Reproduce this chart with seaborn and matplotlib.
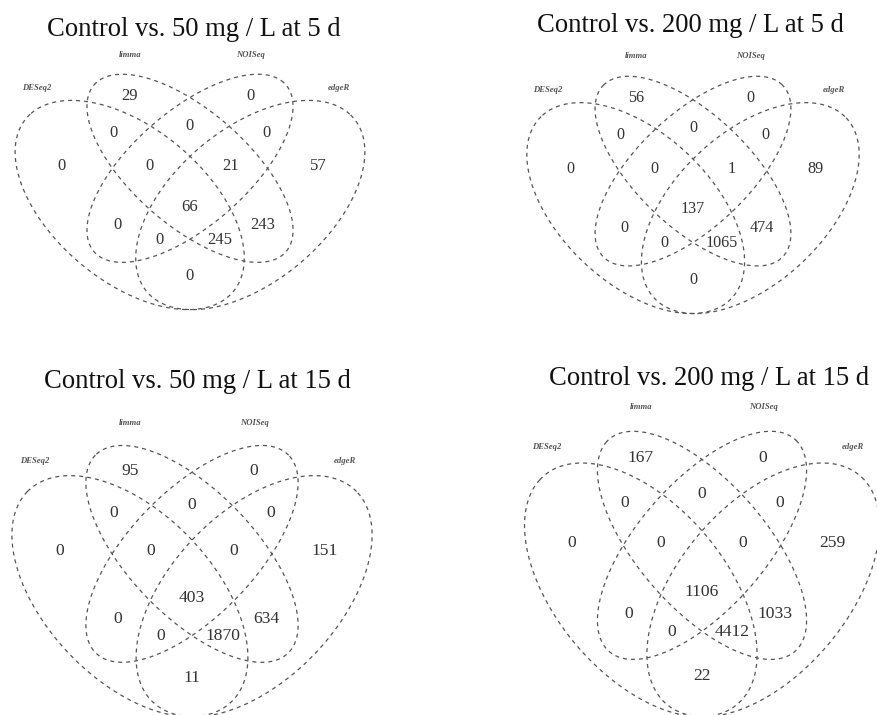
import numpy as np
import pandas as pd
import matplotlib
matplotlib.use("Agg")
import matplotlib.pyplot as plt
import seaborn as sns

# ---------------- data ----------------
titles = [
    "Control vs. 50 mg / L at 5 d",
    "Control vs. 200 mg / L at 5 d",
    "Control vs. 50 mg / L at 15 d",
    "Control vs. 200 mg / L at 15 d",
]
set_names = ["DESeq2", "limma", "NOISeq", "edgeR"]

# region counts in order:
# limma only, limma&NOISeq, NOISeq only, DESeq2&limma, DESeq2&limma&NOISeq,
# all four, limma&NOISeq&edgeR, NOISeq&edgeR, DESeq2 only, DESeq2&NOISeq,
# DESeq2&NOISeq&edgeR, DESeq2&edgeR, DESeq2&limma&edgeR, limma&edgeR, edgeR only
counts_50_5d = [29, 0, 0, 0, 0, 66, 21, 0, 0, 0, 0, 0, 245, 243, 57]
counts_200_5d = [56, 0, 0, 0, 0, 137, 1, 0, 0, 0, 0, 0, 1065, 474, 89]
counts_50_15d = [95, 0, 0, 0, 0, 403, 0, 0, 0, 0, 0, 11, 1870, 634, 151]
counts_200_15d = [167, 0, 0, 0, 0, 1106, 0, 0, 0, 0, 0, 22, 4412, 1033, 259]
panel_counts = [counts_50_5d, counts_200_5d, counts_50_15d, counts_200_15d]

# ---------------- layout (quad venn geometry, unit square) ----------------
ellipses = [  # cx, cy, a, b, rotation (deg)
    (0.35, 0.47, 0.35, 0.20, 135),
    (0.50, 0.57, 0.33, 0.15, 135),
    (0.50, 0.57, 0.33, 0.15, 45),
    (0.65, 0.47, 0.35, 0.20, 45),
]
region_pos = [
    (0.350, 0.77), (0.500, 0.69), (0.650, 0.77), (0.310, 0.67), (0.400, 0.58),
    (0.500, 0.47), (0.600, 0.58), (0.690, 0.67), (0.180, 0.58), (0.320, 0.42),
    (0.425, 0.38), (0.500, 0.28), (0.575, 0.38), (0.680, 0.42), (0.820, 0.58),
]
set_label_pos = [(0.12, 0.79), (0.35, 0.88), (0.65, 0.88), (0.87, 0.79)]

# per panel: x0, sx, y0, sy (pixel transform), title position, number font size
panels = [
    dict(x0=-11, sx=402, y0=377.5, sy=367, tx=194, ty=36, nfs=12.0),
    dict(x0=502, sx=382, y0=382, sy=370, tx=690, ty=32, nfs=11.6),
    dict(x0=-15, sx=414, y0=795, sy=423, tx=197, ty=388, nfs=12.6),
    dict(x0=498, sx=408, y0=799, sy=445, tx=709, ty=385, nfs=12.6),
]

sns.set_theme(style="white")
plt.rcParams["font.family"] = ["Liberation Serif", "DejaVu Serif"]

W, H = 878, 715
fig = plt.figure(figsize=(W / 100, H / 100), dpi=100)
ax = fig.add_axes([0, 0, 1, 1])
ax.set_xlim(0, W)
ax.set_ylim(H, 0)
ax.axis("off")

t = np.linspace(0, 2 * np.pi, 600)
for p, counts, title in zip(panels, panel_counts, titles):
    def tx(u):
        return p["x0"] + p["sx"] * u

    def ty(v):
        return p["y0"] - p["sy"] * v

    for (cx, cy, a, b, rot) in ellipses:
        th = np.deg2rad(rot)
        xu = cx + a * np.cos(t) * np.cos(th) - b * np.sin(t) * np.sin(th)
        yu = cy + a * np.cos(t) * np.sin(th) + b * np.sin(t) * np.cos(th)
        df = pd.DataFrame({"x": tx(xu), "y": ty(yu)})
        sns.lineplot(data=df, x="x", y="y", sort=False, estimator=None,
                     color="#555555", linewidth=0.9,
                     linestyle=(0, (3.2, 3.2)), ax=ax)

    em = p["nfs"] / 72 * 100
    for (u, v), c in zip(region_pos, counts):
        ax.text(tx(u), ty(v) + 0.33 * em, str(c), ha="center", va="baseline",
                fontsize=p["nfs"], color="#333333")

    for (u, v), name in zip(set_label_pos, set_names):
        ax.text(tx(u), ty(v), name, ha="center", va="center",
                fontsize=6.2, fontweight="bold", fontstyle="italic",
                color="#555555")

    ax.text(p["tx"], p["ty"], title, ha="center", va="baseline",
            fontsize=19.2, color="#111111")

fig.savefig("out.png", dpi=100, facecolor="white")
